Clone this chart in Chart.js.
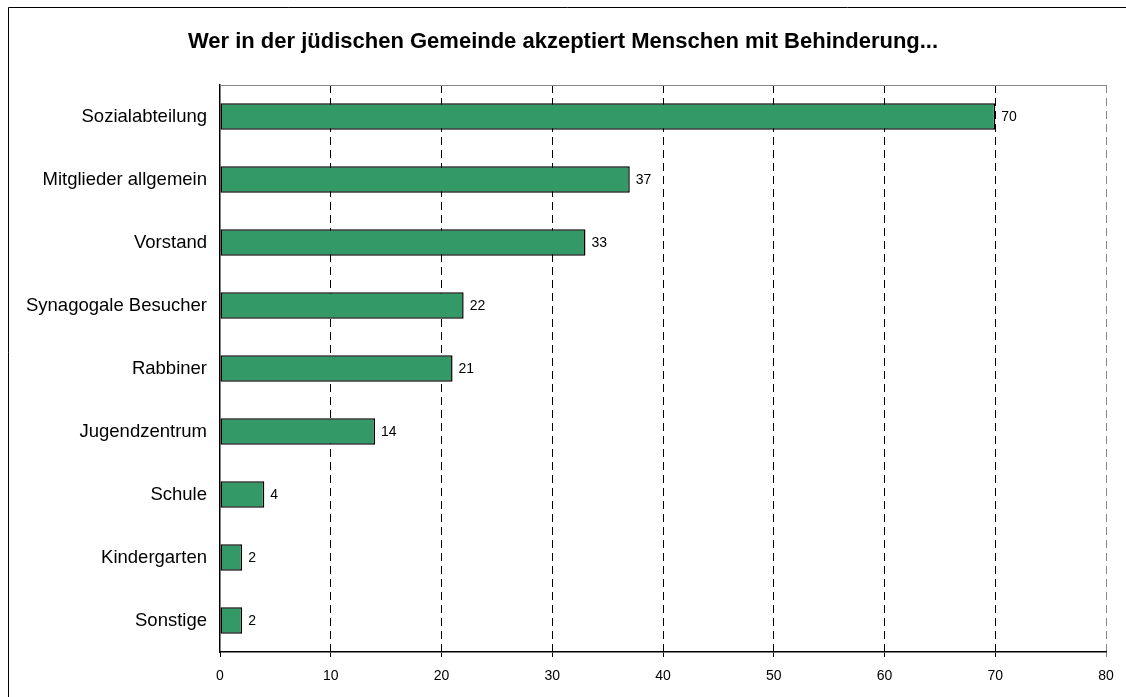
<!DOCTYPE html>
<html>
<head>
<meta charset="utf-8">
<script src="https://cdn.jsdelivr.net/npm/chart.js@4/dist/chart.umd.min.js"></script>
<style>
  html, body { margin: 0; padding: 0; background: #fff; }
  #wrap { width: 1126px; height: 697px; position: relative; }
</style>
</head>
<body>
<div id="wrap"><canvas id="chart"></canvas></div>
<script>
const titleText = "Wer in der jüdischen Gemeinde akzeptiert Menschen mit Behinderung...";
const categories = [
  "Sozialabteilung",
  "Mitglieder allgemein",
  "Vorstand",
  "Synagogale Besucher",
  "Rabbiner",
  "Jugendzentrum",
  "Schule",
  "Kindergarten",
  "Sonstige",
];
const values = [70, 37, 33, 22, 21, 14, 4, 2, 2];
const xTicks = [0, 10, 20, 30, 40, 50, 60, 70, 80];

const FONT = "'Liberation Sans', Arial, sans-serif";

// frame (only top/left visible), title centred on the whole picture, grey top edge of plot
const framePlugin = {
  id: "frame",
  afterDraw(chart) {
    const { ctx, chartArea, width } = chart;
    ctx.save();
    ctx.strokeStyle = "#000";
    ctx.lineWidth = 1;
    ctx.beginPath();
    ctx.moveTo(8.5, 700);
    ctx.lineTo(8.5, 7.5);
    ctx.lineTo(1130, 7.5);
    ctx.stroke();

    ctx.fillStyle = "#000";
    ctx.font = `bold 22px ${FONT}`;
    ctx.textAlign = "center";
    ctx.textBaseline = "alphabetic";
    ctx.fillText(titleText, width / 2, 47.5);

    ctx.strokeStyle = "#888";
    ctx.beginPath();
    ctx.moveTo(chartArea.left, Math.round(chartArea.top) + 0.5);
    ctx.lineTo(chartArea.right, Math.round(chartArea.top) + 0.5);
    ctx.stroke();
    ctx.restore();
  },
};

const valueLabels = {
  id: "valueLabels",
  afterDatasetsDraw(chart) {
    const { ctx } = chart;
    const meta = chart.getDatasetMeta(0);
    ctx.save();
    ctx.fillStyle = "#000";
    ctx.font = `14px ${FONT}`;
    ctx.textAlign = "left";
    ctx.textBaseline = "middle";
    meta.data.forEach((bar, i) => {
      ctx.fillText(String(values[i]), bar.x + 6, bar.y + 1);
    });
    ctx.restore();
  },
};

new Chart(document.getElementById("chart"), {
  type: "bar",
  data: {
    labels: categories,
    datasets: [
      {
        data: values,
        backgroundColor: "#339966",
        borderColor: "#000",
        borderWidth: 1.5,
        borderSkipped: false,
        barPercentage: 0.42,
        categoryPercentage: 1,
      },
    ],
  },
  options: {
    indexAxis: "y",
    responsive: true,
    maintainAspectRatio: false,
    animation: false,
    layout: { padding: { left: 0, right: 20, top: 85, bottom: 0 } },
    plugins: {
      legend: { display: false },
      tooltip: { enabled: false },
      title: { display: false },
    },
    scales: {
      x: {
        min: 0,
        max: 80,
        afterBuildTicks: (scale) => {
          scale.ticks = xTicks.map((v) => ({ value: v }));
        },
        afterFit: (scale) => {
          scale.height = 45;
        },
        ticks: {
          color: "#000",
          font: { family: FONT, size: 14 },
          padding: 11,
          maxRotation: 0,
        },
        grid: {
          color: (c) => (c.index === xTicks.length - 1 ? "#888" : c.index === 0 ? "rgba(0,0,0,0)" : "#000"),
          tickColor: (c) => (c.index === xTicks.length - 1 ? "#888" : "#000"),
          lineWidth: 1,
          tickBorderDash: [],
          tickLength: 5,
          drawTicks: true,
        },
        border: { display: true, color: "#000", width: 1.5, dash: [8, 5] },
      },
      y: {
        afterFit: (scale) => {
          scale.width = 220;
        },
        ticks: {
          color: "#000",
          font: { family: FONT, size: 18.5 },
          padding: 13,
        },
        grid: { display: false, drawTicks: false },
        border: { display: true, color: "#000", width: 1.5 },
      },
    },
  },
  plugins: [framePlugin, valueLabels],
});
</script>
</body>
</html>
